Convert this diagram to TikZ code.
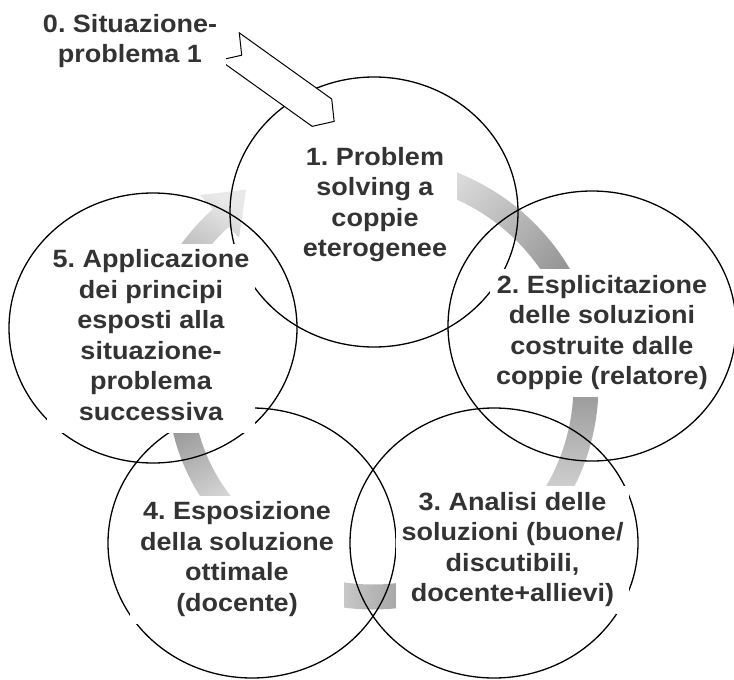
\documentclass[tikz,border=0pt]{standalone}
\usepackage{fontspec}
\setmainfont{Liberation Sans}[FakeStretch=1.08]
\frenchspacing
\definecolor{testo}{HTML}{333333}
\definecolor{chiaro}{HTML}{DADADA}
\definecolor{scuro}{HTML}{969696}
\tikzset{
  cerchio/.style={line width=1.3pt, draw=black},
  etichetta/.style={fill=white, inner ysep=3pt, text=testo,
    font=\fontsize{25}{30.5}\selectfont\bfseries},
}
\begin{document}
\begin{tikzpicture}[x=1pt,y=-1pt]
\useasboundingbox (0,0) rectangle (734,680);

% frecce grigie del ciclo
\begin{scope}[shift={(373,385)}]
\shade[top color=chiaro, bottom color=scuro, shading angle=45]
  (287:228.5) arc[start angle=287, end angle=333, radius=228.5]
  -- (333:203.5) arc[start angle=333, end angle=287, radius=203.5] -- cycle;
\shade[top color=scuro, bottom color=chiaro]
  (0:225.5) arc[start angle=0, end angle=33, radius=225.5]
  -- (33:200.5) arc[start angle=33, end angle=0, radius=200.5] -- cycle;
\shade[left color=chiaro, right color=scuro]
  (76:224.5) arc[start angle=76, end angle=106, radius=224.5]
  -- (106:199.5) arc[start angle=106, end angle=76, radius=199.5] -- cycle;
\shade[top color=scuro, bottom color=chiaro, shading angle=30]
  (140:205.5) arc[start angle=140, end angle=172, radius=205.5]
  -- (172:180.5) arc[start angle=172, end angle=140, radius=180.5] -- cycle;
\shade[top color=chiaro!60!white, middle color=scuro, bottom color=scuro, shading angle=-30]
  (200:238) arc[start angle=200, end angle=227.7, radius=238]
  -- (227.7:257) -- (237:233) -- (227.7:199)
  -- (227.7:214) arc[start angle=227.7, end angle=200, radius=214] -- cycle;
\end{scope}

% cerchi
\coordinate (c1) at (374,212);
\coordinate (c2) at (592,326);
\coordinate (c3) at (494,543);
\coordinate (c4) at (252,543);
\coordinate (c5) at (153,328);
\foreach \c in {c1,c2,c3,c4,c5}
  \draw[cerchio] (\c) ellipse [x radius=144, y radius=135];

% freccia di ingresso
\begin{scope}[shift={(229.5,46.5)}, rotate=-35.6]
\draw[line width=1pt, fill=white] (0,16.8) -- (113.7,16.8) -- (128.7,0)
  -- (113.7,-16.8) -- (0,-16.8) -- (15,0) -- cycle;
\end{scope}

\node (fase0) [etichetta] at (130,41.6) {
\begin{tabular}{c}
0. Situazione-\\
problema 1
\end{tabular}
};
\node (fase1) [etichetta, inner xsep=4pt] at (375,205) {
\begin{tabular}{c}
1. Problem\\
solving a\\
coppie\\
eterogenee
\end{tabular}
};
\node (fase2) [etichetta, inner xsep=0pt] at (602,332.7) {
\begin{tabular}{c}
2. Esplicitazione\\
delle soluzioni\\
costruite dalle\\
coppie (relatore)
\end{tabular}
};
\node (fase3) [etichetta, inner xsep=0pt] at (512.5,549.7) {
\begin{tabular}{c}
3. Analisi delle\\
soluzioni (buone/\\
discutibili,\\
docente+allievi)
\end{tabular}
};
\node (fase4) [etichetta, inner xsep=4pt] at (237,559.6) {
\begin{tabular}{c}
4. Esposizione\\
della soluzione\\
ottimale\\
(docente)
\end{tabular}
};
\node (fase5) [etichetta, inner xsep=0pt] at (151,338.1) {
\begin{tabular}{c}
5. Applicazione\\
dei principi\\
esposti alla\\
situazione-\\
problema\\
successiva
\end{tabular}
};
\end{tikzpicture}
\end{document}
